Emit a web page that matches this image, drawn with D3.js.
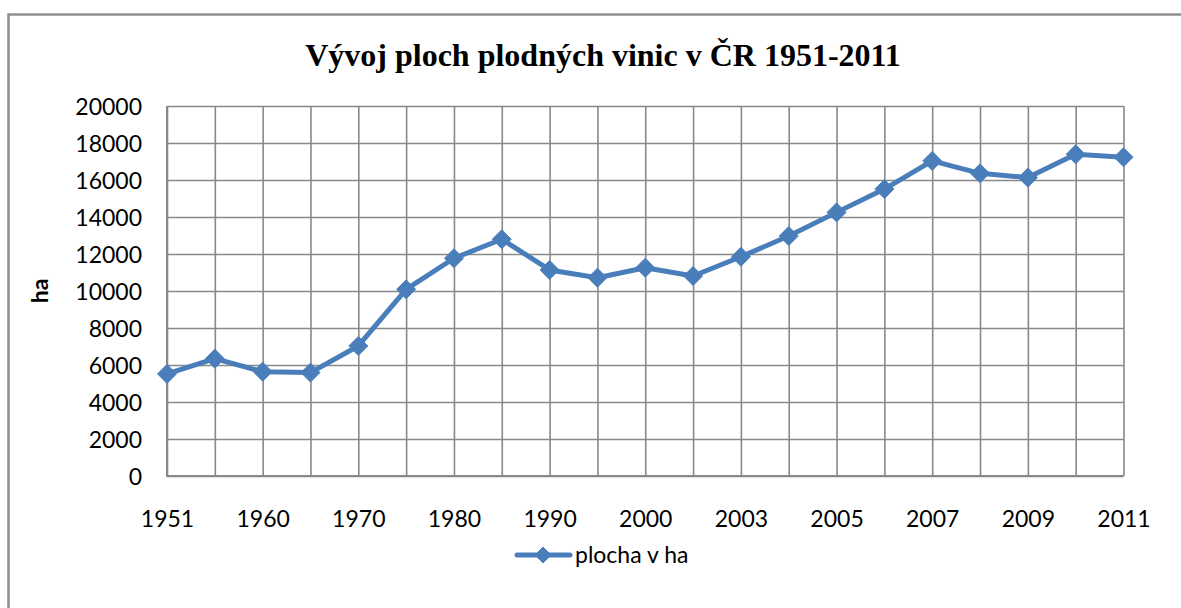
<!DOCTYPE html>
<html>
<head>
<meta charset="utf-8">
<script src="https://cdn.jsdelivr.net/npm/d3@7"></script>
<style>
  html, body { margin: 0; padding: 0; background: #fff; }
  svg { display: block; }
</style>
</head>
<body>
<svg id="chart" width="1181" height="608"></svg>
<script>
// ---- data ----
const years = ["1951","1955","1960","1965","1970","1975","1980","1985","1990","1995",
               "2000","2002","2003","2004","2005","2006","2007","2008","2009","2010","2011"];
const plocha = [5520, 6340, 5640, 5590, 7030, 10090, 11770, 12800, 11140, 10720,
                11260, 10810, 11850, 12970, 14250, 15510, 17030, 16360, 16130, 17390, 17230];
const yTicks = [0, 2000, 4000, 6000, 8000, 10000, 12000, 14000, 16000, 18000, 20000];
const xLabelYears = ["1951","1960","1970","1980","1990","2000","2003","2005","2007","2009","2011"];
const titleText = "Vývoj ploch plodných vinic v ČR 1951-2011";
const yTitle = "ha";
const seriesName = "plocha v ha";

(function () {
// ---- layout ----
const svg = d3.select("#chart");
const pLeft = 167, pRight = 1123.5, pTop = 106, pBottom = 476;
const gridColor = "#898989";
const lineColor = "#4a7ebb";
const tickFont = "Lato, 'Open Sans', sans-serif";

// outer chart border (extends beyond the picture on right/bottom)
svg.append("path")
  .attr("d", "M8.5,640 L8.5,14.5 L1200,14.5")
  .attr("fill", "none").attr("stroke", "#8f8f8f").attr("stroke-width", 2.5);

// title
svg.append("text")
  .attr("x", 603).attr("y", 66)
  .attr("text-anchor", "middle")
  .attr("font-family", "'Liberation Serif', 'Times New Roman', serif")
  .attr("font-weight", "bold")
  .attr("font-size", 32)
  .attr("fill", "#000")
  .text(titleText);

const x = d3.scalePoint().domain(years).range([pLeft, pRight]);
const y = d3.scaleLinear().domain([0, 20000]).range([pBottom, pTop]);

// y axis + horizontal gridlines
const gy = svg.append("g").attr("transform", `translate(${pLeft},0)`)
  .call(d3.axisLeft(y).tickValues(yTicks).tickSize(-(pRight - pLeft)).tickPadding(25).tickFormat(d3.format("d")));
gy.select(".domain").remove();
gy.selectAll(".tick line").attr("stroke", gridColor).attr("stroke-width", 1.6);
gy.selectAll(".tick text")
  .attr("font-family", tickFont).attr("font-size", 23).attr("fill", "#000")
  .attr("dy", "0.35em");

// x axis + vertical gridlines
const gx = svg.append("g").attr("transform", `translate(0,${pBottom})`)
  .call(d3.axisBottom(x).tickSize(-(pBottom - pTop)).tickPadding(0)
    .tickFormat(d => xLabelYears.includes(d) ? d : ""));
gx.select(".domain").remove();
gx.selectAll(".tick line").attr("stroke", gridColor).attr("stroke-width", 1.6);
gx.selectAll(".tick text")
  .attr("font-family", tickFont).attr("font-size", 23).attr("fill", "#000")
  .attr("y", 51).attr("dy", 0);

// plot frame (left and bottom axis lines)
svg.append("path")
  .attr("d", `M${pLeft},${pTop} L${pLeft},${pBottom} L${pRight},${pBottom}`)
  .attr("fill", "none").attr("stroke", gridColor).attr("stroke-width", 2);

// y axis title
svg.append("text")
  .attr("transform", `translate(48,${(pTop + pBottom) / 2}) rotate(-90)`)
  .attr("text-anchor", "middle")
  .attr("font-family", tickFont).attr("font-weight", "bold").attr("font-size", 23)
  .attr("fill", "#000")
  .text(yTitle);

// series line
const line = d3.line().x((d, i) => x(years[i])).y(d => y(d));
svg.append("path")
  .datum(plocha)
  .attr("d", line)
  .attr("fill", "none").attr("stroke", lineColor)
  .attr("stroke-width", 5).attr("stroke-linejoin", "round").attr("stroke-linecap", "round");

// diamond markers
const diamond = (cx, cy, r) => `M${cx},${cy - r} L${cx + r},${cy} L${cx},${cy + r} L${cx - r},${cy} Z`;
svg.append("g").selectAll("path")
  .data(plocha).join("path")
  .attr("d", (d, i) => diamond(x(years[i]), y(d), 9.5))
  .attr("fill", lineColor).attr("stroke", lineColor).attr("stroke-width", 1);

// legend
const lg = svg.append("g");
lg.append("line")
  .attr("x1", 517).attr("x2", 570).attr("y1", 555).attr("y2", 555)
  .attr("stroke", lineColor).attr("stroke-width", 5).attr("stroke-linecap", "round");
lg.append("path").attr("d", diamond(543, 555, 8)).attr("fill", lineColor).attr("stroke", lineColor);
lg.append("text")
  .attr("x", 575).attr("y", 563)
  .attr("font-family", tickFont).attr("font-size", 23).attr("fill", "#000")
  .text(seriesName);
})();
</script>
</body>
</html>
